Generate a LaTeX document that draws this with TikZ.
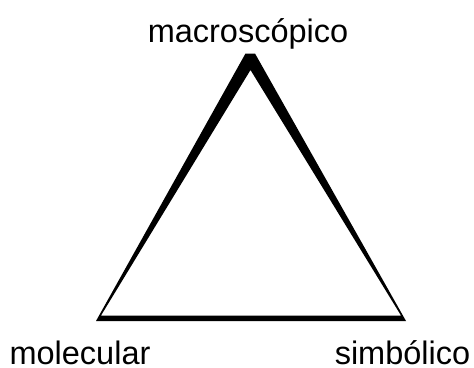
\documentclass[tikz,border=0pt]{standalone}
\usepackage{fontspec}
\setmainfont{Liberation Sans}
\begin{document}
\begin{tikzpicture}[x=1pt,y=-1pt,
  lbl/.style={anchor=base,inner sep=0pt,font=\fontsize{32.5}{38}\selectfont}]
\useasboundingbox (0,0) rectangle (474,367);
\coordinate (oL) at (96,321);
\coordinate (oT1) at (245.5,53.5);
\coordinate (oT2) at (255,53.5);
\coordinate (oR) at (406,321);
\coordinate (iL) at (101,315.5);
\coordinate (iT) at (250.5,70);
\coordinate (iR) at (401,315.5);
\fill[black,even odd rule] (oL) -- (oT1) -- (oT2) -- (oR) -- cycle
  (iL) -- (iT) -- (iR) -- cycle;
\node[lbl] (macro) at (248,42) {macroscópico};
\node[lbl] (mol) at (80,364) {molecular};
\node[lbl] (sim) at (402.5,364) {simbólico};
\end{tikzpicture}
\end{document}
